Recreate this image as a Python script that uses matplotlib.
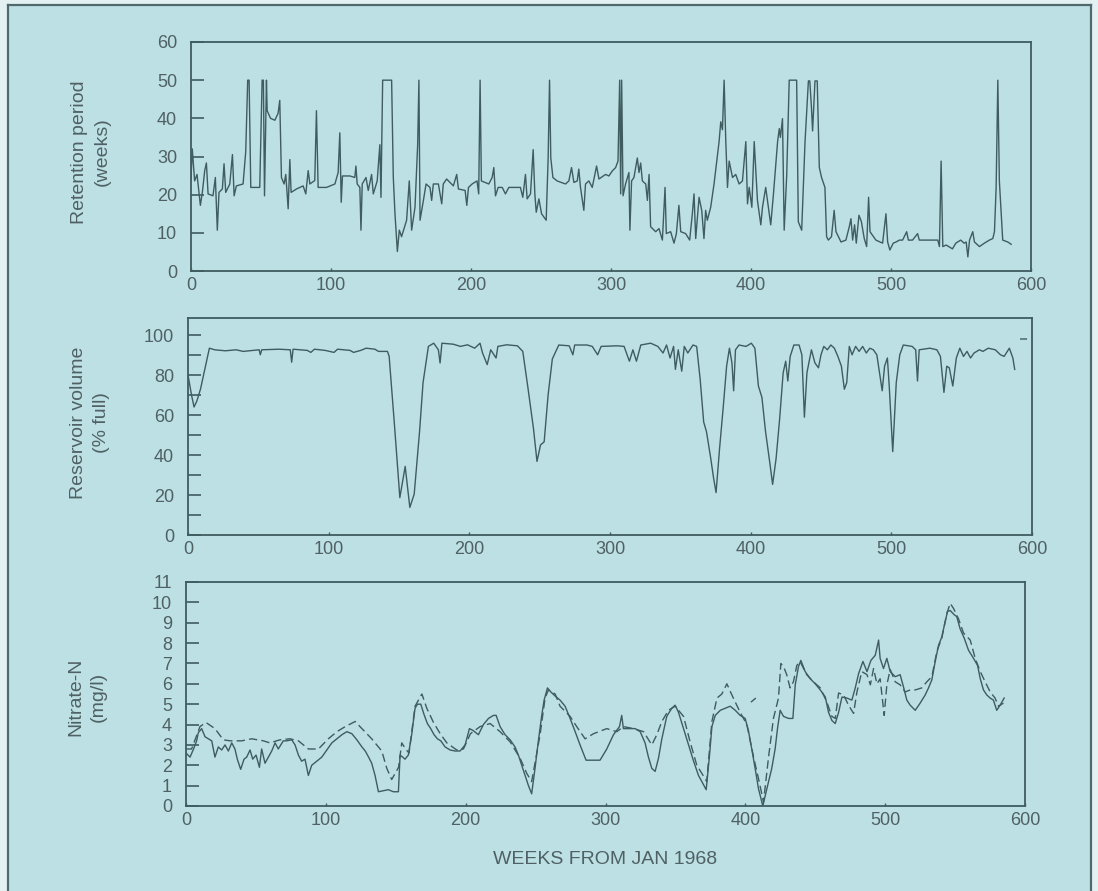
import numpy as np
import matplotlib
matplotlib.use("Agg")
import matplotlib.pyplot as plt
from matplotlib.lines import Line2D
from matplotlib.patches import Rectangle

# Retention period (weeks), vertices
ret_wk = [0, 0.9, 2.6, 4.3, 6.7, 8.1, 9.8, 11, 12.2, 15.7, 17.4, 18.8, 20, 22.4, 23.6, 24.8,
          27.7, 29.6, 30.8, 32.4, 37.2, 39.1, 40.5, 41.5, 42.7, 49.1, 50.8, 51.7, 52.5, 53.9,
          54.4, 56.8, 59.9, 62.2, 63.4, 64.6, 66.5, 67.7, 69.4, 70.6, 71.5, 75.4, 80.1, 82,
          83.7, 84.9, 88.4, 89.6, 90.8, 96.8, 102.8, 105.1, 106.3, 107.3, 108.2, 113.5, 117,
          117.8, 118.7, 120.6, 121.4, 122.3, 125, 126.6, 129, 130.2, 133, 134.9, 135.7, 136.9,
          143.3, 144.5, 145.7, 147.4, 148.8, 150.4, 154, 155.9, 157.6, 160, 161.9, 162.8, 163.6,
          166, 167.9, 170.7, 171.9, 173.1, 176.7, 179.1, 180.2, 182.6, 187.4, 189.8, 191, 195.8,
          197, 198.2, 200.8, 204.3, 205.5, 206.5, 207.4, 212.7, 215.1, 216.3, 217.5, 219.4,
          222.3, 224.6, 227, 235.3, 237, 238.9, 240.1, 242.5, 244.4, 245.6, 246.6, 248.5, 250.4,
          253.7, 255.1, 256.1, 257, 258.5, 261.5, 267.5, 269.9, 271.8, 273.5, 275.9, 277, 278.2,
          280.6, 281.8, 284.2, 286.6, 289.7, 291.4, 296.1, 298.5, 300.9, 303.3, 305, 306.2,
          306.9, 307.6, 308.6, 310.4, 312.8, 313.5, 314.7, 316.4, 318.8, 320, 321.2, 322.4,
          324.8, 326, 327.2, 328.3, 331.9, 334.3, 336.7, 338.6, 339.5, 342.6, 345, 346.7, 348.5,
          349.8, 353.3, 356.2, 358.1, 359.3, 360.5, 362.9, 364.8, 366.4, 367.6, 368.8, 371.2,
          373.6, 377.2, 378.4, 379.6, 380.8, 382, 383.2, 384.4, 386.8, 389.1, 391.5, 393.9,
          396.3, 397.5, 398.7, 400.6, 402.3, 404.6, 407, 408.2, 410.5, 414.1, 416, 419, 420.2,
          421, 422.5, 423.7, 425.5, 427.3, 432.6, 433.8, 436.2, 438.6, 441, 442, 443.2, 444,
          445.7, 447.3, 448.8, 450.4, 452.8, 454, 455.2, 457.5, 459.4, 460.7, 464.3, 467.8,
          470.2, 471.4, 472.6, 474, 475.2, 477.1, 478.8, 480.9, 482.6, 484, 485, 489.2, 494,
          496.4, 497.6, 499.2, 501.6, 503.6, 506, 508.3, 511.2, 512.4, 515.4, 519, 520.2, 527.4,
          533.4, 534.6, 535.8, 537, 539.4, 543.9, 546.3, 549.8, 552.2, 553.7, 554.9, 556.1,
          558.4, 559.6, 563.2, 566.7, 570.3, 572.7, 573.9, 575.1, 576.3, 577.4, 579.8, 583.4,
          585.8]
ret_val = [24, 32, 23.6, 25.3, 17.2, 20.6, 26.3, 28.3, 20.2, 19.7, 24.5, 10.7, 20.6, 21.5, 28.1,
           20.6, 22.8, 30.5, 19.7, 22.3, 22.8, 31.3, 50, 50, 21.9, 21.9, 50, 50, 19.7, 50, 42, 40,
           39.5, 41.3, 44.7, 24.5, 22.8, 25.3, 16.3, 29.2, 20.6, 21.5, 22.3, 20.2, 26.3, 22.8,
           23.7, 42, 21.9, 21.9, 22.8, 25.8, 36.2, 18, 24.9, 24.9, 24.5, 27.5, 22.8, 21.9, 10.7,
           22.8, 24.5, 21.1, 25.3, 20.2, 23.6, 33.1, 19.3, 50, 50, 24.5, 15, 5.1, 10.7, 9, 13.3,
           23.6, 10.7, 16.7, 33.1, 50, 13.3, 18.5, 22.8, 21.9, 18.5, 22.8, 22.8, 17.6, 22.8, 24.1,
           22.3, 25.3, 21.5, 21.1, 17.2, 21.9, 22.8, 23.6, 20.2, 50, 23.6, 22.8, 24.5, 27.1, 19.7,
           21.9, 21.9, 20.2, 21.9, 21.9, 19.3, 25.3, 18.9, 20.2, 31.8, 20.2, 15.4, 18.9, 15, 13.3,
           29.6, 50, 29.6, 24.5, 23.6, 22.8, 23.6, 27.1, 23.2, 23.6, 26.7, 21.9, 15.9, 22.8, 23.6,
           21.9, 27.5, 24.1, 25.3, 24.9, 26.2, 27.1, 28.8, 50, 20.2, 50, 19.7, 22.8, 25.8, 10.7,
           23.6, 24.5, 29.6, 25.8, 28.3, 23.6, 22.8, 18.5, 25.3, 11.6, 10.3, 11.1, 8.1, 21.9, 9.8,
           10.3, 7.3, 9.8, 17.2, 10.3, 9.8, 8.1, 15, 20.2, 8.5, 19.3, 15.9, 8.5, 15.9, 13.3, 16.7,
           22.8, 33.9, 39.1, 37, 50, 33.9, 21.9, 28.8, 24.5, 25.3, 22.8, 23.6, 33.9, 17.6, 21.9,
           16.7, 33.9, 18.5, 12.1, 16.7, 21.9, 12.1, 20, 33.9, 37.3, 35, 39.9, 10.7, 25, 50, 50,
           12.9, 10.7, 33.9, 49.8, 49.8, 42.7, 36.7, 49.8, 49.8, 27.1, 24.5, 21.9, 9, 8.1, 9,
           15.9, 10.3, 7.6, 8.1, 11.6, 13.7, 8.1, 12.1, 7.3, 14.6, 13, 8.5, 6.4, 19.3, 10.3, 8.1,
           7.3, 15, 7.6, 5.5, 7.3, 7.6, 8.1, 8.1, 10.3, 8.1, 8.1, 9.8, 8.1, 8.1, 8.1, 6.4, 28.8,
           6.4, 6.8, 5.8, 7.3, 8.1, 7.3, 7.6, 3.7, 8.1, 10.3, 7.6, 6.4, 7.3, 8.1, 8.5, 10.3, 21.9,
           50, 23.6, 8.1, 7.6, 7.0]

# Reservoir volume (% full); the short stray dash at the far right is kept after a break
vol_wk = [0, 1, 2.5, 4.3, 6.3, 8.9, 11.4, 15.2, 19, 26.6, 34.2, 39.2, 50.6, 51.4, 52.4, 64.6,
          72.7, 73.7, 74.7, 84.8, 87.3, 89.9, 97.5, 103.8, 106.3, 115.2, 117.7, 122.8, 126.6,
          132.9, 135.4, 141.8, 143, 146.8, 150.6, 154.4, 157.7, 160.8, 164.6, 167.1, 170.9,
          174.7, 178, 179.2, 180.5, 188.6, 193.7, 198.7, 203.8, 207.6, 209.4, 212.7, 215.2, 219,
          220.3, 226.6, 234.2, 238, 241.8, 245.6, 248.1, 250.6, 253.2, 256, 259, 263.6, 271,
          273.6, 274.9, 283.7, 287.4, 291.2, 293.7, 305, 310, 313.8, 316.3, 318.8, 321.9, 328.9,
          334, 337.7, 340.2, 342.7, 345.2, 346.5, 348.5, 351, 352.8, 355.3, 359, 361.6, 364.1,
          366.6, 368.6, 371.6, 373.6, 375.4, 377.9, 380.4, 382.9, 384.9, 386.7, 387.9, 389.2,
          391.7, 396.7, 400.5, 403, 405.5, 408, 410.6, 413.8, 415.6, 418.1, 420.6, 423.1, 424.9,
          426.4, 428.1, 430.7, 434.4, 436.4, 438.2, 440, 443.2, 445.7, 448.2, 450, 452, 454.5,
          457, 459.5, 462, 464.5, 466.6, 468.3, 470.1, 472.1, 474.6, 477.1, 479.6, 482.2, 484.7,
          487.2, 489.7, 493.5, 495.2, 497.2, 498.5, 501, 503.5, 506, 508.5, 514.8, 517.3, 518.6,
          519.8, 527.4, 532.4, 534.9, 537.4, 539.4, 541.2, 543.7, 546.2, 548.7, 551.3, 553.8,
          556.3, 558.8, 562.6, 565.1, 568.9, 573.9, 577.6, 580.2, 583.9, 586.4, 587.7,
          np.nan, 592, 596]
vol_val = [80, 76, 70, 64, 67, 73, 81, 93.4, 92.6, 92.1, 92.6, 91.8, 92.6, 90.1, 92.6, 92.9, 92.6,
           86.4, 92.9, 92.3, 91.3, 92.9, 92.3, 91.3, 92.9, 92.3, 91.3, 92.3, 93.4, 92.9, 91.8,
           91.8, 89.3, 54.8, 18.7, 34.3, 13.8, 20.4, 51.6, 76.2, 94.3, 95.9, 92.6, 86, 95.9, 95.4,
           94.3, 95.1, 93.4, 95.9, 91, 85.2, 92.6, 88.5, 94.3, 95.1, 94.6, 91.8, 72.9, 53.2, 36.8,
           45, 46.6, 70, 88, 95, 94.6, 90.1, 95, 95, 94.3, 90.1, 94.3, 94.6, 94.3, 86.9, 92.6,
           86.9, 95, 95.9, 94.3, 91, 95, 88.5, 94.3, 82.8, 92.6, 81.9, 94.3, 91, 95, 94.3, 77.8,
           56.5, 51.6, 38.4, 28.6, 21.2, 43.3, 63.1, 84.4, 93.4, 86, 72.1, 92.6, 95, 94.3, 95.9,
           93.4, 74.5, 68.8, 51.6, 35.1, 25.3, 38.4, 58.1, 81.1, 86.9, 77, 89.3, 95, 95, 90.1,
           58.9, 81.1, 92.6, 86, 83.6, 90.1, 94.3, 92.6, 95, 93.4, 89.3, 84.4, 72.9, 76.2, 94.3,
           90.1, 94.3, 91.8, 94.3, 91, 93.4, 92.6, 90.1, 72.1, 84.4, 88.5, 74.5, 41.7, 76.2, 90.1,
           95, 94.3, 92.6, 77, 92.6, 93.4, 92.6, 89.3, 71.3, 84.4, 83.6, 74.5, 88.5, 93.4, 89.3,
           91.8, 88.5, 91, 92.6, 91.8, 93.4, 92.6, 90.1, 89.3, 93.4, 88.5, 82.8,
           np.nan, 98, 98]

# Nitrate-N (mg/l): observed (solid) and simulated (dashed)
obs_wk = [0, 2.9, 5.4, 7.6, 8.8, 11.2, 13.6, 16, 18.4, 20.7, 23.1, 25.5, 27.9, 30.3, 32.7, 35,
          36.7, 39.1, 41.5, 43.4, 45.8, 47.7, 50.1, 52.5, 54.1, 56.5, 58.9, 61.3, 63.7, 66, 69.6,
          72, 75.6, 78, 80.4, 82.7, 85.1, 87.5, 89.9, 93.5, 97.1, 100.7, 104.3, 107.9, 111.5,
          115, 118.6, 122.2, 125.8, 128.2, 130.6, 132.8, 135.2, 137.6, 141.1, 144.7, 148.3,
          151.9, 153.1, 155, 156.6, 159, 161.4, 163.8, 165.5, 167.9, 170.2, 172.6, 175, 177.4,
          179.8, 182.2, 185.3, 188.9, 192.4, 196, 199.6, 202.7, 205.5, 209.1, 212.7, 216.3,
          219.9, 221.8, 224.6, 228.2, 231.8, 235.3, 237.7, 240.1, 242.5, 244.9, 247.2, 249.6,
          252, 254.4, 256.1, 258.5, 260.9, 264, 267.5, 271.1, 274.7, 278.3, 281.8, 286.1, 290.2,
          296.1, 300.9, 305.7, 310, 311.6, 312.8, 316.4, 321.2, 324.8, 328.3, 330.7, 333.1,
          335.5, 337.9, 340.3, 343.8, 347.4, 349.8, 352.2, 355.8, 359.4, 363, 366.5, 368.9, 372,
          374.4, 376.1, 378.5, 382.1, 385.6, 389.2, 392.8, 396.3, 399.9, 402.2, 404.6, 407,
          409.4, 412.5, 415.4, 418.9, 421.3, 423, 424.9, 427.3, 430.9, 434, 435.7, 438, 439.7,
          442.8, 446.4, 450, 453.6, 457.2, 459.5, 461.9, 464.3, 466.7, 469.1, 472.7, 476.2,
          478.6, 481, 484.1, 487, 489.8, 492.9, 495.3, 496.4, 498.8, 501.2, 503.6, 507.2, 510.7,
          513.1, 515.5, 517.9, 521.5, 525, 528.6, 531, 533.4, 535.8, 538.2, 540.5, 542.9, 544.6,
          546.5, 549.3, 551.2, 553.6, 556.5, 559.6, 563.2, 566.1, 568, 570.3, 572.7, 575.1,
          577.4, 579.8, 582.2, 585.1]
obs_val = [2.6, 2.4, 2.8, 3.2, 3.6, 3.8, 3.4, 3.3, 3.2, 2.4, 2.9, 2.75, 3.0, 2.7, 3.1, 2.8, 2.3,
           1.8, 2.3, 2.4, 2.75, 2.3, 2.5, 1.9, 2.8, 2.1, 2.4, 2.7, 3.1, 2.8, 3.2, 3.2, 3.25, 3.0,
           2.5, 2.2, 2.3, 1.5, 2.0, 2.2, 2.4, 2.75, 3.1, 3.3, 3.5, 3.65, 3.55, 3.25, 2.9, 2.7, 2.4,
           2.1, 1.5, 0.7, 0.75, 0.8, 0.7, 0.7, 2.5, 2.4, 2.3, 2.5, 3.5, 4.8, 5.0, 5.0, 4.5, 4.05,
           3.8, 3.5, 3.3, 3.2, 2.9, 2.75, 2.7, 2.7, 3.0, 3.8, 3.7, 3.5, 4.0, 4.3, 4.45, 4.45, 3.9,
           3.5, 3.25, 2.9, 2.5, 2.0, 1.5, 1.0, 0.6, 1.85, 3.2, 4.45, 5.2, 5.8, 5.6, 5.4, 5.2, 4.9,
           4.3, 3.65, 3.0, 2.25, 2.25, 2.25, 2.8, 3.5, 3.9, 4.45, 3.8, 3.8, 3.8, 3.65, 3.1, 2.4,
           1.85, 1.7, 2.35, 3.3, 4.4, 4.8, 4.95, 4.6, 3.8, 3.0, 2.2, 1.5, 1.2, 0.8, 2.5, 3.9, 4.45,
           4.7, 4.8, 4.9, 4.7, 4.45, 4.3, 3.7, 2.8, 1.85, 0.85, 0.0, 0.85, 1.85, 2.8, 3.8, 4.7,
           4.4, 4.3, 4.3, 5.95, 6.85, 7.15, 6.6, 6.25, 6.0, 5.7, 5.35, 4.6, 4.2, 4.05, 4.6, 5.35,
           5.3, 5.2, 5.8, 6.5, 7.1, 6.6, 7.15, 7.4, 8.15, 7.25, 6.75, 7.25, 6.6, 6.35, 6.45, 5.85,
           5.2, 4.95, 4.7, 5.05, 5.45, 5.8, 6.2, 7.1, 7.9, 8.3, 9.05, 9.55, 9.6, 9.4, 9.3, 8.7,
           8.25, 7.65, 7.25, 6.9, 6.25, 5.7, 5.45, 5.3, 5.2, 4.7, 4.95, 5.3]

sim_wk = [0, 4, 10, 14.3, 20.7, 26.7, 31.5, 39.8, 47, 55.3, 60, 67.2, 74.4, 80.4, 87.5, 94.7,
          101.8, 107.9, 113.9, 121, 125.8, 132.8, 140, 143.6, 147.1, 152, 154.3, 157, 159.5,
          163.8, 168.7, 172.2, 177, 181.8, 186.5, 193.6, 198.4, 203.4, 210.3, 217.5, 224.6,
          231.8, 238.9, 243.7, 247.2, 253.2, 256.8, 259.2, 264, 267.5, 274.7, 279.4, 285.4,
          291.4, 300.9, 308.1, 312.8, 320, 327.2, 333.1, 336.7, 340.3, 345, 349.8, 355.8, 360.5,
          365.3, 368.9, 372.4, 376.1, 379.7, 383.2, 386.8, 390.4, 396.3, 401.1, 403.5, 405.9,
          409.4, 413, 416.6, 420.1, 423.7, 425.4, 427.3, 429.6, 432, 434.4, 436.8, 439.1, 443.9,
          448.7, 453.6, 458.3, 461.9, 464.3, 466.7, 470.3, 473.8, 477.4, 479.8, 483.3, 487,
          489.4, 491.7, 494.1, 496.4, 499.3, 501.2, 503.6, 507.2, 510.7, 514.3, 517.9, 521.5,
          526.2, 529.8, 533.4, 537, 540.5, 544.1, 546.5, 548.9, 552.4, 556, 560.8, 564.4, 568,
          571.5, 575.1, 578.6, 581, 584.6,
          np.nan, 404, 407.5]
sim_val = [2.8, 2.8, 3.9, 4.1, 3.8, 3.25, 3.2, 3.2, 3.3, 3.2, 3.1, 3.25, 3.3, 3.2, 2.8, 2.8, 3.3,
           3.65, 3.9, 4.15, 3.8, 3.3, 2.7, 1.85, 1.3, 1.9, 3.1, 2.8, 2.6, 4.9, 5.5, 4.8, 4.1, 3.55,
           3.1, 2.75, 2.8, 3.55, 3.9, 4.05, 3.65, 3.15, 2.35, 1.6, 1.2, 3.5, 5.3, 5.7, 5.5, 4.9,
           4.4, 3.9, 3.3, 3.55, 3.8, 3.65, 3.9, 3.8, 3.65, 3.0, 3.5, 4.15, 4.7, 4.9, 4.4, 3.15,
           2.0, 1.6, 1.2, 4.15, 5.3, 5.5, 6.0, 5.45, 4.6, 4.0, 3.2, 2.4, 1.35, 0.2, 2.4, 4.3,
           5.3, 7.0, 6.85, 6.45, 5.8, 6.1, 6.9, 7.1, 6.45, 6.1, 5.8, 5.1, 4.4, 4.3, 5.55, 5.45,
           4.95, 4.55, 5.6, 6.6, 6.45, 5.95, 6.75, 6.0, 6.25, 4.45, 5.95, 6.7, 6.1, 5.95, 5.6,
           5.7, 5.7, 5.8, 6.1, 6.35, 7.6, 8.25, 9.45, 9.95, 9.7, 9.2, 8.5, 8.15, 7.25, 6.6, 6.1,
           5.6, 5.3, 4.9, 5.05,
           np.nan, 5.1, 5.3]

BG = "#bde0e4"
INK = "#3f5c60"
TXT = "#4f6164"

plt.rcParams['font.family'] = ['Liberation Sans', 'DejaVu Sans']

fig = plt.figure(figsize=(10.98, 8.91), dpi=100)
fig.patch.set_facecolor("#e4f1f2")
fig.add_artist(Rectangle((8 / 1098, 0), (1091 - 8) / 1098, 1 - 5 / 891,
                         transform=fig.transFigure, facecolor=BG, edgecolor="none", zorder=0))
# frame of the scanned page
for xs, ys in [([8, 8], [5, 891]), ([8, 1091], [5, 5]), ([1091, 1091], [5, 891])]:
    fig.add_artist(Line2D([x / 1098 for x in xs], [1 - y / 891 for y in ys],
                          transform=fig.transFigure, color="#50696d", lw=1.6))


def style(ax, yticks, ylabels, ylim):
    ax.set_facecolor("none")
    ax.set_xlim(0, 600)
    ax.set_ylim(*ylim)
    for s in ax.spines.values():
        s.set_color(INK)
        s.set_linewidth(1.3)
    ax.set_xticks([0, 100, 200, 300, 400, 500, 600])
    ax.set_yticks(yticks)
    ax.set_yticklabels(ylabels)
    ax.tick_params(axis='y', direction='in', length=9, width=1.2, color=INK,
                   pad=10, labelsize=13, labelcolor=TXT)
    ax.tick_params(axis='x', direction='in', length=2.5, width=1.0, color=INK,
                   pad=4, labelsize=13, labelcolor=TXT)


ax1 = fig.add_axes([191 / 1098, 1 - 271 / 891, 840 / 1098, 229 / 891])
ax1.plot(ret_wk, ret_val, color=INK, lw=1.0)
style(ax1, [0, 10, 20, 30, 40, 50, 60], ['0', '10', '20', '30', '40', '50', '60'], (0, 60))

ax2 = fig.add_axes([188 / 1098, 1 - 535 / 891, 844 / 1098, 217 / 891])
ax2.plot(vol_wk, vol_val, color=INK, lw=1.0)
style(ax2, list(range(0, 101, 10)),
      ['0', '', '20', '', '40', '', '60', '', '80', '', '100'], (0, 108.5))

ax3 = fig.add_axes([186 / 1098, 1 - 806 / 891, 839 / 1098, 224 / 891])
ax3.plot(sim_wk, sim_val, color=INK, lw=1.0, ls=(0, (6, 3)))
ax3.plot(obs_wk, obs_val, color=INK, lw=1.0)
style(ax3, list(range(0, 12)), [str(i) for i in range(12)], (0, 11))
ax3.set_xlabel("WEEKS FROM JAN 1968", fontsize=14, color=TXT, labelpad=16)

for yc, xc, txt in [(152, 91, "Retention period\n(weeks)"),
                    (423, 90, "Reservoir volume\n(% full)"),
                    (697, 87, "Nitrate-N\n(mg/l)")]:
    fig.text(xc / 1098, 1 - yc / 891, txt, rotation=90, ha='center', va='center',
             multialignment='center', fontsize=14, color=TXT, linespacing=1.45)

fig.savefig("out.png", dpi=100, facecolor=fig.get_facecolor())
